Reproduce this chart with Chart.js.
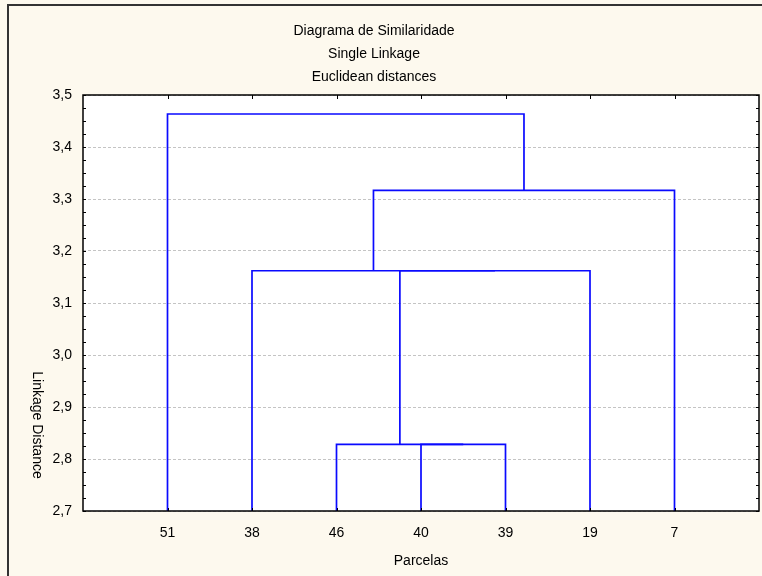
<!DOCTYPE html>
<html>
<head>
<meta charset="utf-8">
<script src="https://cdn.jsdelivr.net/npm/chart.js@4/dist/chart.umd.min.js"></script>
<style>
  html, body { margin: 0; padding: 0; background: #fdf9ee; }
  #wrap { position: relative; width: 762px; height: 576px; }
</style>
</head>
<body>
<div id="wrap"><canvas id="dendroChart" width="762" height="576"></canvas></div>
<script>
// leaves in the order they appear along the x axis
const leaves = ['51', '38', '46', '40', '39', '19', '7']

// linkage rows: nodes 0-6 are leaves, node 7+k is the result of merge k
const mergeLeft = [3, 2, 8, 1, 10, 0]
const mergeRight = [4, 7, 5, 9, 6, 11]
const mergeHeight = [2.828, 2.828, 3.162, 3.162, 3.3165, 3.4635]

const yTicks = [2.7, 2.8, 2.9, 3.0, 3.1, 3.2, 3.3, 3.4, 3.5]
const titleLines = ['Diagrama de Similaridade', 'Single Linkage', 'Euclidean distances']
const xTitle = 'Parcelas'
const yTitle = 'Linkage Distance'

const yMin = yTicks[0]
const yMax = yTicks[yTicks.length - 1]
const fontFamily = '"Liberation Sans", Arial, sans-serif'

// position (in data units) of every node of the tree
const nodeX = leaves.map((_, i) => i + 1)
const nodeY = leaves.map(() => yMin)
mergeHeight.forEach((h, k) => {
  nodeX.push((nodeX[mergeLeft[k]] + nodeX[mergeRight[k]]) / 2)
  nodeY.push(h)
})

// one bracket-shaped polyline per merge
const datasets = mergeHeight.map((h, k) => {
  const a = mergeLeft[k]
  const b = mergeRight[k]
  return {
    data: [
      { x: nodeX[a], y: nodeY[a] },
      { x: nodeX[a], y: h },
      { x: nodeX[b], y: h },
      { x: nodeX[b], y: nodeY[b] }
    ],
    showLine: true,
    borderColor: '#0a0aff',
    borderWidth: 1.7,
    pointRadius: 0,
    tension: 0,
    fill: false
  }
})

// background, frame, inward ticks and all the titles
const decorPlugin = {
  id: 'decor',
  beforeDraw(chart) {
    const { ctx, chartArea: a } = chart
    ctx.save()
    ctx.fillStyle = '#fdf9ee'
    ctx.fillRect(0, 0, chart.width, chart.height)
    ctx.fillStyle = '#ffffff'
    ctx.fillRect(a.left, a.top, a.right - a.left, a.bottom - a.top)
    ctx.restore()
  },
  afterDraw(chart) {
    const { ctx, chartArea: a, scales } = chart
    ctx.save()

    // plot frame
    ctx.strokeStyle = '#000'
    ctx.lineWidth = 1.5
    ctx.strokeRect(a.left, a.top, a.right - a.left, a.bottom - a.top)

    // minor/major ticks on left and right spines
    ctx.lineWidth = 1
    ctx.beginPath()
    for (let i = 0; i <= (yMax - yMin) / 0.025 + 0.001; i++) {
      const y = Math.round(scales.y.getPixelForValue(yMin + i * 0.025)) + 0.5
      ctx.moveTo(a.left, y)
      ctx.lineTo(a.left + 3, y)
      ctx.moveTo(a.right, y)
      ctx.lineTo(a.right - 3, y)
    }
    // ticks on top and bottom spines at each leaf
    nodeX.slice(0, leaves.length).forEach((v) => {
      const x = Math.round(scales.x.getPixelForValue(v)) + 0.5
      ctx.moveTo(x, a.top)
      ctx.lineTo(x, a.top + 4)
      ctx.moveTo(x, a.bottom)
      ctx.lineTo(x, a.bottom - 3)
    })
    ctx.stroke()

    // outer window border
    ctx.strokeStyle = '#333'
    ctx.lineWidth = 2
    ctx.beginPath()
    ctx.moveTo(8, chart.height)
    ctx.lineTo(8, 5)
    ctx.lineTo(chart.width, 5)
    ctx.stroke()

    // titles
    ctx.fillStyle = '#000'
    ctx.textAlign = 'center'
    ctx.textBaseline = 'middle'
    ctx.font = '14px ' + fontFamily
    titleLines.forEach((line, i) => {
      ctx.fillText(line, 374, 31 + i * 23)
    })
    ctx.fillText(xTitle, (a.left + a.right) / 2, 561)

    ctx.translate(37, 425)
    ctx.rotate(Math.PI / 2)
    ctx.fillText(yTitle, 0, 0)
    ctx.restore()
  }
}

new Chart(document.getElementById('dendroChart'), {
  type: 'scatter',
  data: { datasets: datasets },
  options: {
    responsive: false,
    animation: false,
    events: [],
    layout: { padding: { left: 0, top: 95, right: 3, bottom: 0 } },
    plugins: {
      legend: { display: false },
      tooltip: { enabled: false },
      title: { display: false }
    },
    scales: {
      x: {
        type: 'linear',
        min: 0,
        max: leaves.length + 1,
        afterBuildTicks: (scale) => {
          scale.ticks = leaves.map((_, i) => ({ value: i + 1 }))
        },
        afterFit: (scale) => {
          scale.height = 65
        },
        ticks: {
          autoSkip: false,
          maxRotation: 0,
          padding: 14,
          color: '#000',
          font: { family: fontFamily, size: 14 },
          callback: (v) => leaves[v - 1]
        },
        grid: { display: false, drawTicks: false },
        border: { display: false }
      },
      y: {
        type: 'linear',
        min: yMin,
        max: yMax,
        afterBuildTicks: (scale) => {
          scale.ticks = yTicks.map((v) => ({ value: v }))
        },
        afterFit: (scale) => {
          scale.width = 83
        },
        ticks: {
          padding: 11,
          color: '#000',
          font: { family: fontFamily, size: 14 },
          callback: (v) => v.toFixed(1).replace('.', ',')
        },
        grid: { color: '#c4c4c4', lineWidth: 1, drawTicks: false },
        border: { display: false, dash: [3, 2] }
      }
    }
  },
  plugins: [decorPlugin]
})
</script>
</body>
</html>
